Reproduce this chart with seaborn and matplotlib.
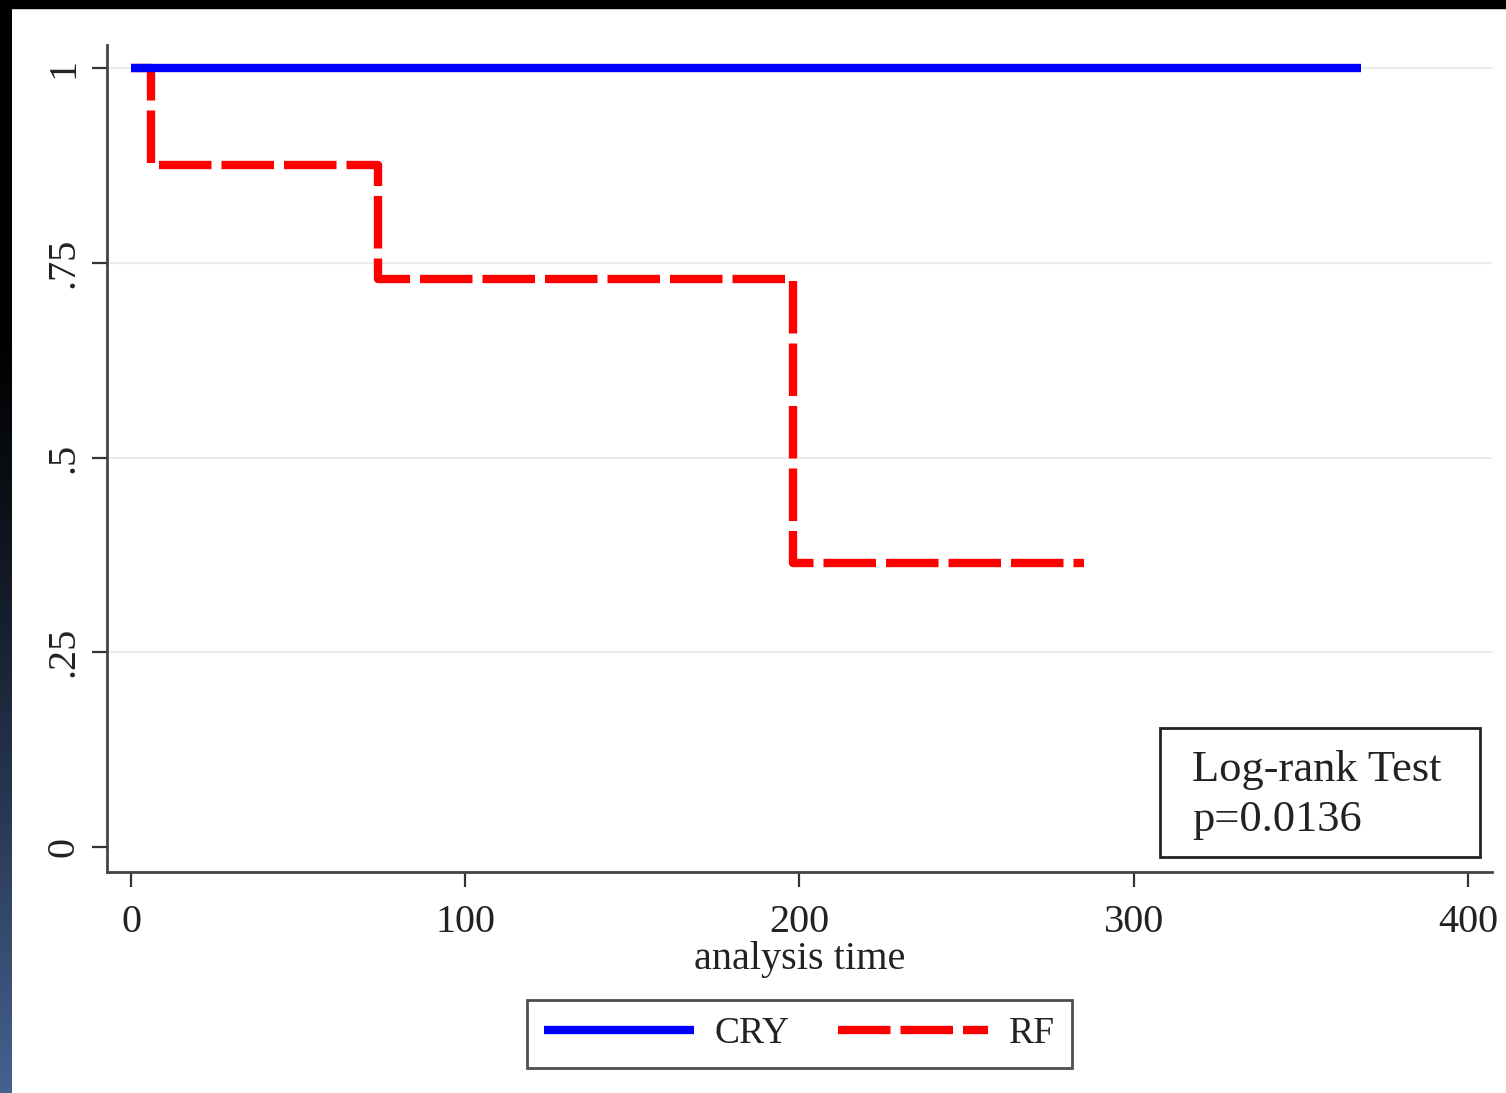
import numpy as np
import pandas as pd
import matplotlib
matplotlib.use("Agg")
import matplotlib.pyplot as plt
from matplotlib.patches import Rectangle
from matplotlib.lines import Line2D
import seaborn as sns

# Kaplan-Meier survival estimates by treatment group
cry_time = [0, 368]
cry_surv = [1.0, 1.0]
rf_time = [0, 6, 74, 198, 285]
rf_surv = [1.0, 0.875, 0.729, 0.3646, 0.3646]
groups = ["CRY", "RF"]
x_ticks = [0, 100, 200, 300, 400]
y_ticks = [0, 0.25, 0.5, 0.75, 1]
y_tick_labels = ["0", ".25", ".5", ".75", "1"]
test_lines = ["Log-rank Test", "p=0.0136"]

df = pd.concat([
    pd.DataFrame({"time": cry_time, "surv": cry_surv, "group": groups[0]}),
    pd.DataFrame({"time": rf_time, "surv": rf_surv, "group": groups[1]}),
], ignore_index=True)

sns.set_theme(style="white")
plt.rcParams["font.family"] = ["Liberation Serif", "DejaVu Serif"]

W, H = 1506, 1093
fig = plt.figure(figsize=(W / 100, H / 100), dpi=100)
ax = fig.add_axes([107 / W, 1 - 872 / H, (1492 - 107) / W, (872 - 45) / H])

palette = {"CRY": "#0000ff", "RF": "#ff0000"}
dash_map = {"CRY": "", "RF": (6.3, 1.2)}
LW = 6.0
sns.lineplot(data=df, x="time", y="surv", hue="group", style="group",
             palette=palette, dashes=dash_map, estimator=None, sort=False,
             drawstyle="steps-post", linewidth=LW, legend=False, ax=ax)
lines = ax.get_lines()
for ln in lines:
    ln.set_dash_capstyle("butt")
    ln.set_solid_capstyle("butt")
# survival curve of the CRY group sits on top where the curves overlap
lines[0].set_zorder(4)
lines[1].set_zorder(3)

ax.set_xlim(-7.2, 407.2)
ax.set_ylim(-0.032, 1.0295)
ax.set_xticks(x_ticks)
ax.set_yticks(y_ticks)
ax.set_yticklabels(y_tick_labels, rotation=90, va="center")
ax.tick_params(axis="both", labelsize=29, colors="#333333", length=11,
               width=1.6, direction="out", labelcolor="#222222",
               bottom=True, left=True)
ax.tick_params(axis="y", pad=7)
ax.tick_params(axis="x", pad=12)
ax.set_xlabel("analysis time", fontsize=29, color="#222222", labelpad=0)
ax.set_ylabel("")

for side in ["top", "right"]:
    ax.spines[side].set_visible(False)
for side in ["left", "bottom"]:
    ax.spines[side].set_color("#444444")
    ax.spines[side].set_linewidth(2.0)

ax.yaxis.grid(True, color="#e8eeee", linewidth=1.6)
ax.yaxis.get_gridlines()[0].set_visible(False)
ax.set_axisbelow(True)

# Legend below the plot
handles = [
    Line2D([], [], color=palette["CRY"], linewidth=LW, solid_capstyle="butt"),
    Line2D([], [], color=palette["RF"], linewidth=LW, dashes=(6.3, 1.2),
           dash_capstyle="butt"),
]
leg = fig.legend(handles, groups, loc="center",
                 bbox_to_anchor=(799.5 / W, 1 - 1034 / H), ncol=2,
                 fontsize=27, handlelength=4.0, handletextpad=0.55,
                 columnspacing=1.3, frameon=True, fancybox=False,
                 borderpad=0.45, borderaxespad=0)
leg.get_frame().set_edgecolor("#222222")
leg.get_frame().set_linewidth(2.0)
for t in leg.get_texts():
    t.set_color("#222222")

# Log-rank test annotation box
fig.patches.append(Rectangle((1160 / W, 1 - 857 / H), 320 / W, 129 / H,
                             transform=fig.transFigure, fill=True,
                             facecolor="white", edgecolor="#222222",
                             linewidth=2.0, zorder=5))
fig.text(1192 / W, 1 - 770 / H, test_lines[0], fontsize=32,
         color="#222222", va="center", ha="left", zorder=6)
fig.text(1192 / W, 1 - 820 / H, test_lines[1], fontsize=32,
         color="#222222", va="center", ha="left", zorder=6)

# Dark frame: black band on top, shaded strip on the left
fig.patches.append(Rectangle((0, 1 - 8 / H), 1, 8 / H,
                             transform=fig.transFigure, color="black",
                             zorder=10))
strip = fig.add_axes([0, 0, 12 / W, 1])
rows = np.linspace(0, 1, 400)
t = np.clip((rows - 0.30) / 0.70, 0, 1) ** 1.2
top_c = np.array([0.0, 0.0, 0.0])
bot_c = np.array([70, 98, 145]) / 255
grad = (top_c[None, :] * (1 - t[:, None]) + bot_c[None, :] * t[:, None])
strip.imshow(grad[:, None, :], aspect="auto", extent=[0, 1, 1, 0])
strip.set_axis_off()

fig.savefig("out.png", dpi=100)
